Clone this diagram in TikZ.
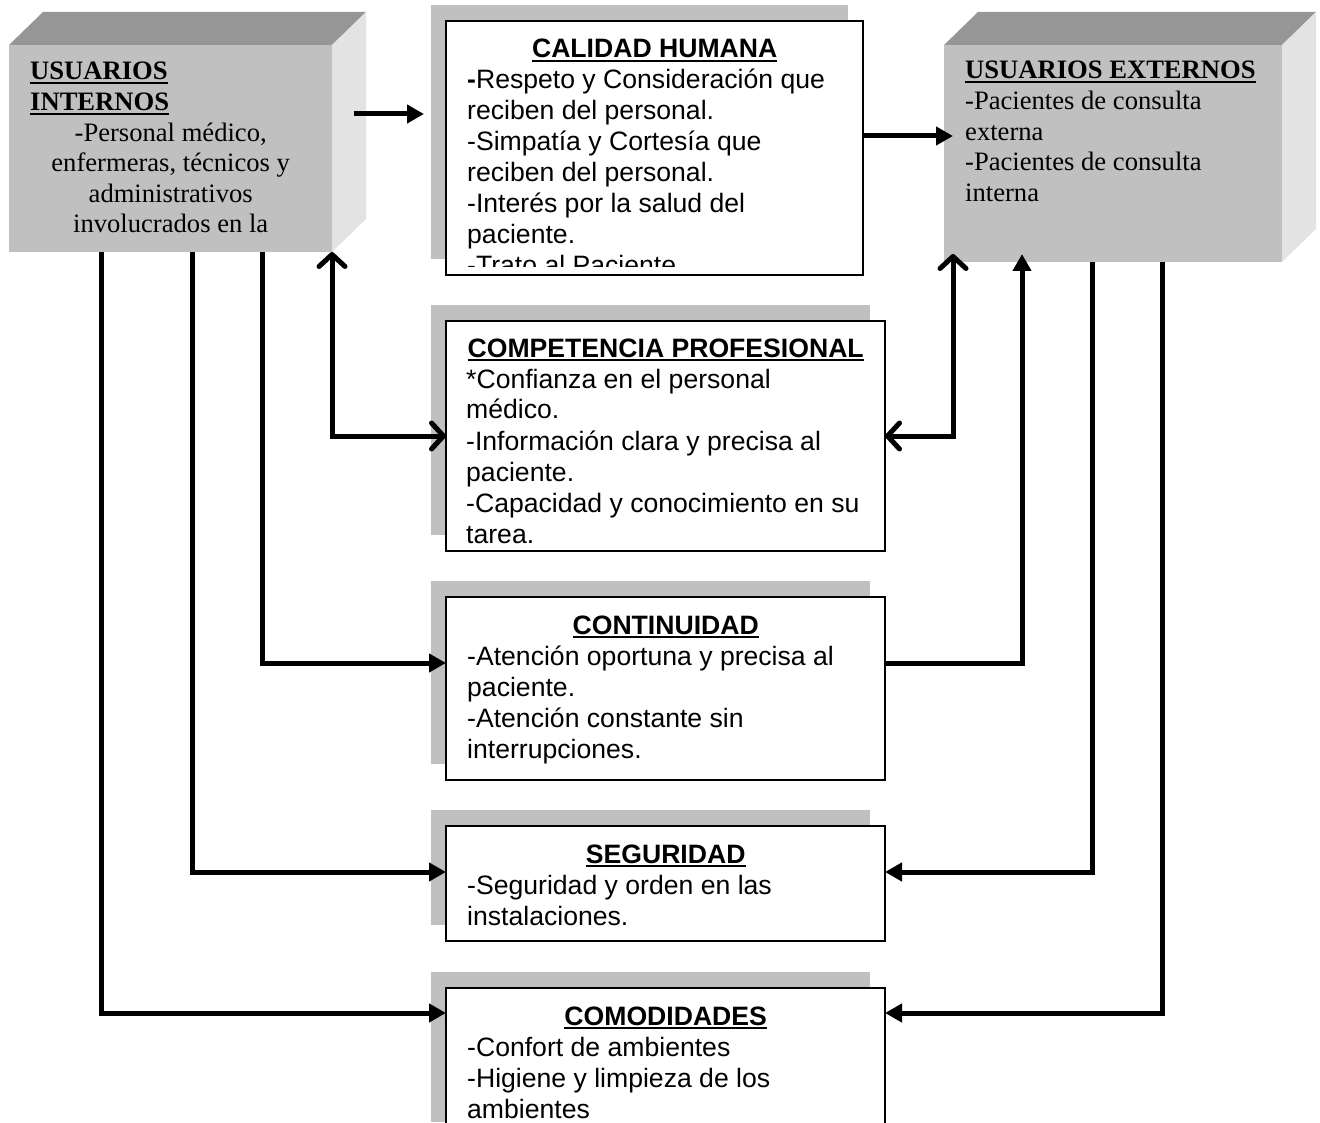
\documentclass[tikz,border=0pt]{standalone}
\usepackage{fontspec}
\newfontfamily\arialf{Liberation Sans}
\newfontfamily\timesf{Liberation Serif}
\usetikzlibrary{arrows.meta,backgrounds,calc}
\newcommand\ulbar[1]{\leavevmode\setbox0\hbox{#1}\rlap{\vrule width\wd0 height -2pt depth 4.4pt}\box0}
\definecolor{facegray}{HTML}{C0C0C0}
\definecolor{topgray}{HTML}{969696}
\definecolor{sidegray}{HTML}{E3E3E3}
\definecolor{shadegray}{HTML}{C0C0C0}
\begin{document}
\begin{tikzpicture}[x=1pt,y=-1pt,
  wbox/.style={draw=black,line width=1.8pt,fill=white,rectangle,inner sep=0pt,outer sep=0pt,anchor=north west},
  face/.style={fill=facegray,rectangle,inner sep=0pt,outer sep=0pt,anchor=north west},
  sanstext/.style={anchor=base west,inner sep=0pt,align=flush left,font=\arialf\fontsize{26.6}{31}\selectfont},
  seriftext/.style={anchor=base west,inner sep=0pt,align=flush left,font=\timesf\fontsize{26.6}{30.6}\selectfont},
  conn/.style={line width=5pt},
  fhead/.style={-{Triangle[length=17pt,width=18pt]}},
  ohead/.style={{Straight Barb[length=12pt,width=26pt,round]}-{Straight Barb[length=12pt,width=26pt,round]}},
]
\useasboundingbox (0,0) rectangle (1320,1123);

% ---- left 3D box (usuarios internos)
\node[face,minimum width=323pt,minimum height=207pt] (ui) at (9,45) {};
\fill[topgray] (ui.north west) -- ++(34,-33) -- ([shift={(34,-33)}]ui.north east) -- (ui.north east) -- cycle;
\fill[sidegray] (ui.north east) -- ++(34,-33) -- ([shift={(34,-33)}]ui.south east) -- (ui.south east) -- cycle;
\node[seriftext,text width=281pt] (uit) at (30,80)
  {\ulbar{\textbf{USUARIOS}}\\\ulbar{\textbf{INTERNOS}}\par
   {\centering -Personal médico,\\enfermeras, técnicos y\\administrativos\\involucrados en la\par}};

% ---- right 3D box (usuarios externos)
\node[face,minimum width=338pt,minimum height=217pt] (ue) at (944,45) {};
\fill[topgray] (ue.north west) -- ++(34,-33) -- ([shift={(34,-33)}]ue.north east) -- (ue.north east) -- cycle;
\fill[sidegray] (ue.north east) -- ++(34,-33) -- ([shift={(34,-33)}]ue.south east) -- (ue.south east) -- cycle;
\node[seriftext,text width=310pt] (uet) at (965,79)
  {\ulbar{\textbf{USUARIOS EXTERNOS}}\\-Pacientes de consulta\\externa\\-Pacientes de consulta\\interna};

% ---- white boxes
\node[wbox,minimum width=417pt,minimum height=254pt] (c1) at (446,21) {};
\node[wbox,minimum width=439pt,minimum height=230pt] (c2) at (446,321) {};
\node[wbox,minimum width=439pt,minimum height=183pt] (c3) at (446,597) {};
\node[wbox,minimum width=439pt,minimum height=115pt] (c4) at (446,826) {};
\node[wbox,minimum width=439pt,minimum height=150pt] (c5) at (446,988) {};

\begin{scope}[on background layer]
  \foreach \b in {c1,c2,c3,c4,c5}
    \fill[shadegray] ([shift={(-15,-16)}]\b.north west) rectangle ([shift={(-15,-16)}]\b.south east);
\end{scope}

\begin{scope}
  \clip (c1.north west) rectangle ($(c1.south east)+(0,-8)$);
  \node[sanstext,text width=375pt] (t1) at (467,58)
    {{\centering\ulbar{\textbf{CALIDAD HUMANA}}\par}
     \textbf{-}Respeto y Consideración que\\reciben del personal.\\-Simpatía y Cortesía que\\reciben del personal.\\-Interés por la salud del\\paciente.\\-Trato al Paciente};
\end{scope}
\node[sanstext,text width=399pt] (t2) at (466,357)
  {{\centering\ulbar{\textbf{COMPETENCIA PROFESIONAL}}\par}
   *Confianza en el personal\\médico.\\-Información clara y precisa al\\paciente.\\-Capacidad y conocimiento en su\\tarea.};
\node[sanstext,text width=397pt] (t3) at (467,634)
  {{\centering\ulbar{\textbf{CONTINUIDAD}}\par}
   -Atención oportuna y precisa al\\paciente.\\-Atención constante sin\\interrupciones.};
\node[sanstext,text width=397pt] (t4) at (467,863)
  {{\centering\ulbar{\textbf{SEGURIDAD}}\par}
   -Seguridad y orden en las\\instalaciones.};
\node[sanstext,text width=397pt] (t5) at (467,1025)
  {{\centering\ulbar{\textbf{COMODIDADES}}\par}
   -Confort de ambientes\\-Higiene y limpieza de los\\ambientes};

% ---- connectors
\coordinate (a1s) at (354,114);
\coordinate (a1e) at (424,114);
\draw[conn,fhead] (a1s) -- (a1e);
\draw[conn,fhead] (c1.east |- 0,136) -- ($(ue.west |- 0,136)+(9,0)$);

\draw[conn,ohead] (ui.south east) |- (c2.west);
\draw[conn,fhead] (ui.south west -| 262,0) |- (c3.west |- 0,663);
\draw[conn,fhead] (ui.south west -| 192,0) |- (c4.west |- 0,872);
\draw[conn,fhead] (ui.south west -| 101,0) |- (c5.west |- 0,1013);

\draw[conn,ohead] (c2.east) -| ($(ue.south west -| 953,0)+(0,-8)$);
\draw[conn,fhead] (c3.east |- 0,663) -| ($(ue.south west -| 1022,0)+(0,-8)$);
\draw[conn,fhead] (ue.south west -| 1092,0) |- (c4.east |- 0,872);
\draw[conn,fhead] (ue.south west -| 1162,0) |- (c5.east |- 0,1013);
\end{tikzpicture}
\end{document}
